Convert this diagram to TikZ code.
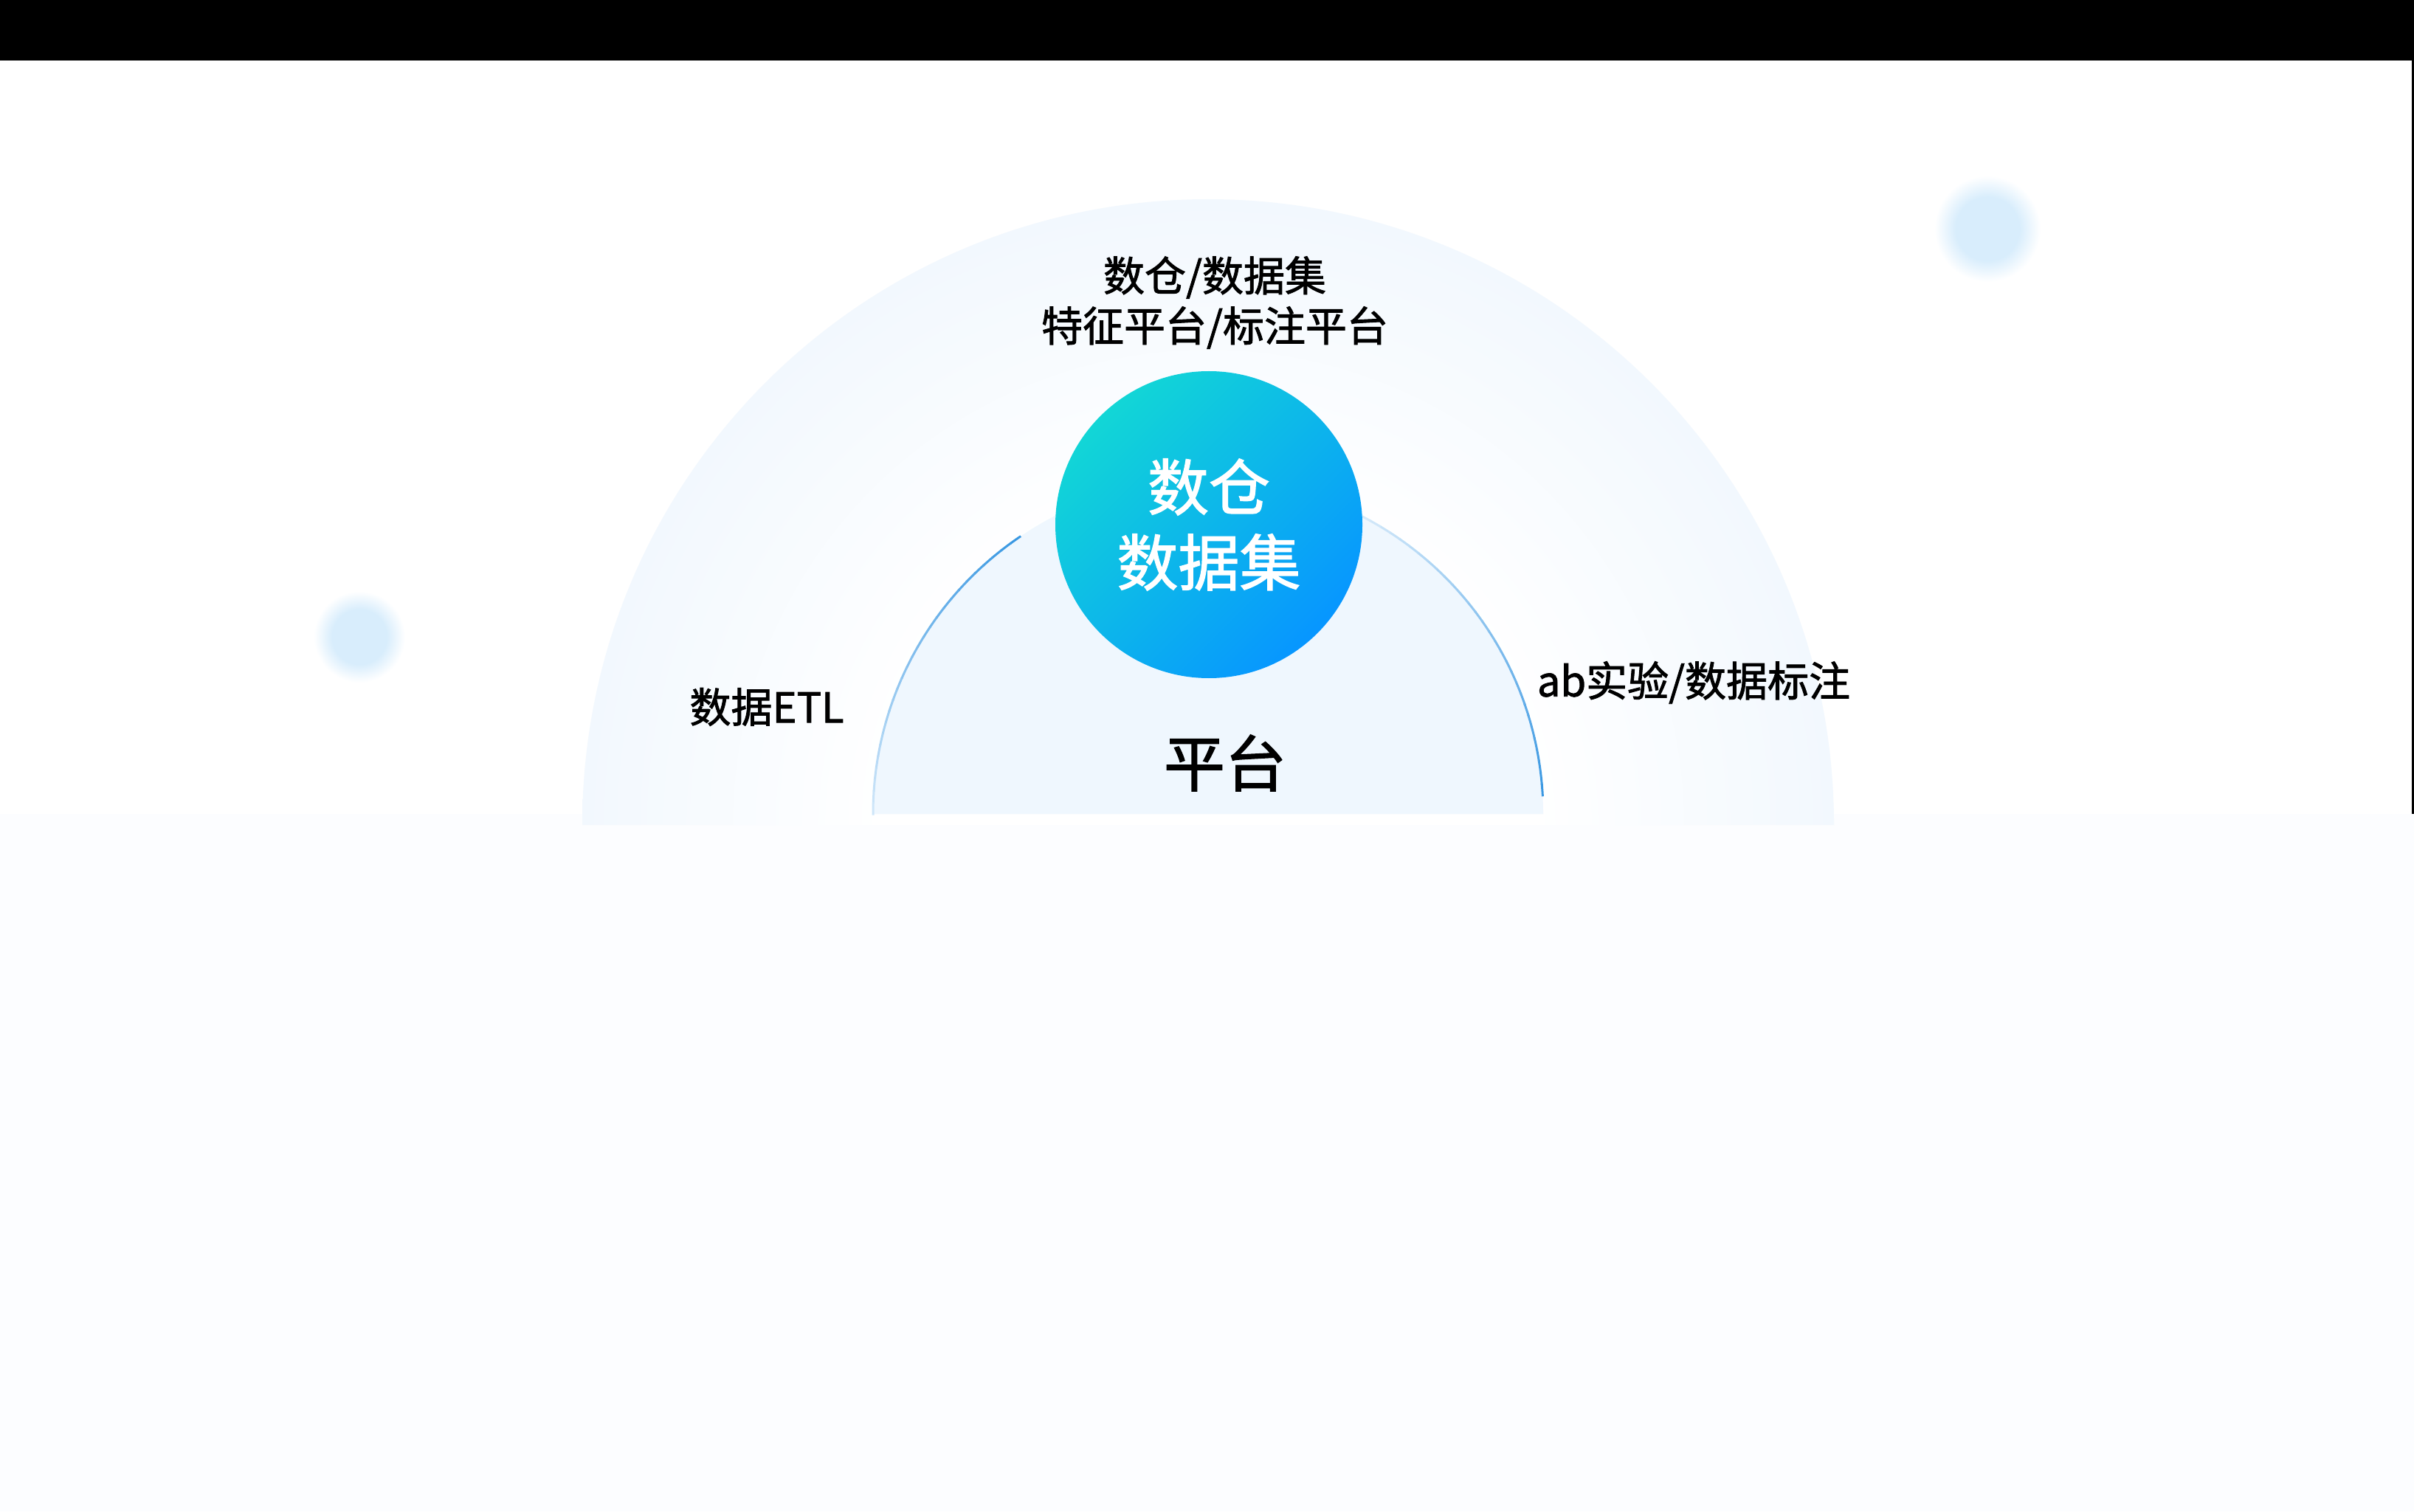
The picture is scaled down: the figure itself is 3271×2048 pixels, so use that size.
\documentclass[tikz,border=0pt]{standalone}
\usepackage{fontspec}
\setmainfont{Noto Sans CJK SC}
\newfontfamily\medfont{Noto Sans CJK SC}[FakeBold=1.6]
\usetikzlibrary{calc}
\definecolor{outerrim}{HTML}{F2F8FE}
\definecolor{innerfill}{HTML}{EFF7FE}
\definecolor{lowerbg}{HTML}{FCFDFF}
\definecolor{arcblue}{HTML}{3A98E2}
\definecolor{bub}{HTML}{D8EDFC}
\definecolor{corecyan}{HTML}{12D6D6}
\definecolor{coreblue}{HTML}{0796FF}
\pgfdeclareradialshading{outerglow}{\pgfpointorigin}{color(0bp)=(white); color(13bp)=(white); color(25bp)=(outerrim); color(50bp)=(outerrim)}
\pgfdeclareradialshading{bubble}{\pgfpointorigin}{color(0bp)=(bub); color(15bp)=(bub); color(25bp)=(white); color(50bp)=(white)}
\begin{document}
\begin{tikzpicture}[x=0.25pt,y=0.25pt,
  lbl/.style={text=black, font=\medfont\fontsize{14}{17}\selectfont, align=center, inner sep=0pt},
  big/.style={font=\medfont\fontsize{20.75}{25.5}\selectfont, align=center, inner sep=0pt},
  rimarc/.style={line width=0.75pt}]
\useasboundingbox (0,0) rectangle (3271,2048);
\fill[white] (0,0) rectangle (3271,2048);
\fill[lowerbg] (0,0) rectangle (3271,945);
\fill[black] (0,1966) rectangle (3271,2048);
\fill[black] (3268,945) rectangle (3271,1966);
\coordinate (oc) at (1637,930);
\coordinate (ic) at (1637,945);
\begin{scope}
  \clip (789,930) arc[start angle=180,end angle=0,radius=848] -- cycle;
  \shade[shading=outerglow] (oc) circle[radius=848];
\end{scope}
\fill[innerfill] (1183,945) arc[start angle=180,end angle=0,radius=454] -- cycle;
\foreach \a in {124,126,...,178} {
  \pgfmathsetmacro\p{100-85*(\a-124)/56}
  \draw[rimarc, draw=arcblue!\p!innerfill] ($(ic)+(\a:454)$) arc[start angle=\a,end angle=\a+2.2,radius=454];
}
\foreach \a in {3,5,...,61} {
  \pgfmathsetmacro\p{15+85*(61-\a)/58}
  \draw[rimarc, draw=arcblue!\p!innerfill] ($(ic)+(\a:454)$) arc[start angle=\a,end angle=\a+2.2,radius=454];
}
\node[big, circle, minimum size=104pt, shade, top color=corecyan, bottom color=coreblue, shading angle=45, text=white] (core) at (1638,1337) {数仓\\数据集};
\node[lbl] (top) at (1646,1638) {数仓/数据集\\特征平台/标注平台};
\node[lbl] (etl) at (1039,1090) {数据ETL};
\node[lbl] (ab) at (2295,1123) {ab实验/数据标注};
\node[big, text=black] (plat) at (1660,1014) {平台};
\shade[shading=bubble] (487,1185) circle[radius=62];
\shade[shading=bubble] (2693,1738) circle[radius=72];
\end{tikzpicture}
\end{document}
